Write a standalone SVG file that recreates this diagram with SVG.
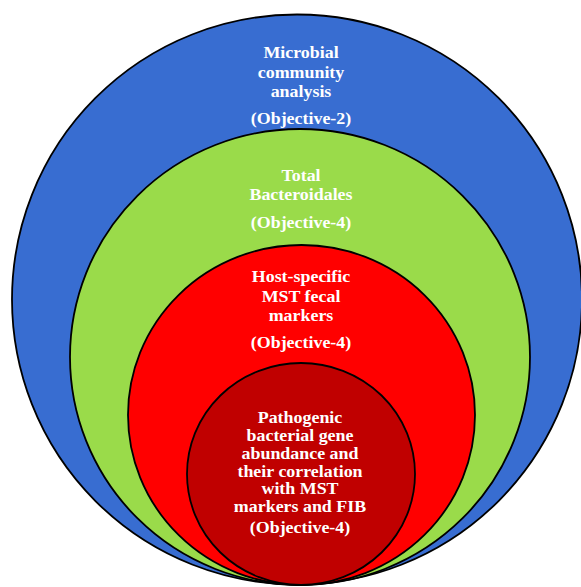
<svg xmlns="http://www.w3.org/2000/svg" width="581" height="587" viewBox="0 0 581 587">
<style>
.ring{stroke:#000;stroke-width:1.8}
.t{font-family:"Liberation Serif","Times New Roman",serif;font-weight:bold;font-size:16px;fill:#fff;text-anchor:middle}
</style>
<rect width="581" height="587" fill="#fff"/>
<g id="microbial">
<ellipse class="ring" cx="297" cy="299.5" rx="285" ry="285" fill="#386DD1"/>
<g transform="translate(301,0) scale(1.12,1)">
<text class="t" x="0" y="58.5">Microbial</text>
<text class="t" x="0" y="78">community</text>
<text class="t" x="0" y="97">analysis</text>
<text class="t" x="0" y="124">(Objective-2)</text>
</g>
</g>
<g id="bacteroidales">
<ellipse class="ring" cx="300" cy="357" rx="230" ry="228" fill="#9ADB4A"/>
<g transform="translate(301,0) scale(1.12,1)">
<text class="t" x="0" y="181">Total</text>
<text class="t" x="0" y="200">Bacteroidales</text>
<text class="t" x="0" y="228">(Objective-4)</text>
</g>
</g>
<g id="mst">
<ellipse class="ring" cx="301.5" cy="415" rx="173.5" ry="170" fill="#FF0000"/>
<g transform="translate(301,0) scale(1.12,1)">
<text class="t" x="0" y="282">Host-specific</text>
<text class="t" x="0" y="302">MST fecal</text>
<text class="t" x="0" y="321">markers</text>
<text class="t" x="0" y="348">(Objective-4)</text>
</g>
</g>
<g id="pathogenic">
<ellipse class="ring" cx="301" cy="474" rx="114" ry="111" fill="#C00000"/>
<g transform="translate(300,0) scale(1.12,1)">
<text class="t" x="0" y="423">Pathogenic</text>
<text class="t" x="0" y="441.5">bacterial gene</text>
<text class="t" x="0" y="459">abundance and</text>
<text class="t" x="0" y="477">their correlation</text>
<text class="t" x="0" y="494.5">with MST</text>
<text class="t" x="0" y="512">markers and FIB</text>
<text class="t" x="0" y="533">(Objective-4)</text>
</g>
</g>
<g id="connectors"></g>
</svg>
